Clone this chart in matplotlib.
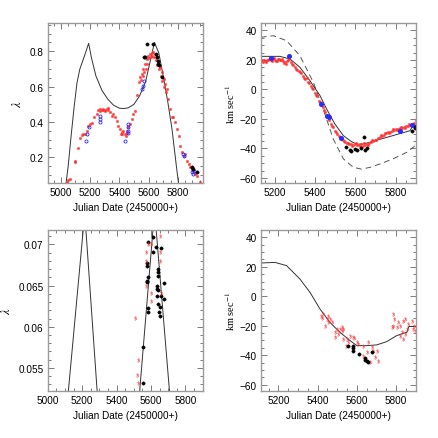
import matplotlib
matplotlib.use("Agg")
import matplotlib.pyplot as plt
from matplotlib.ticker import MultipleLocator

plt.rcParams['font.family'] = ['Liberation Sans', 'DejaVu Sans']
plt.rcParams['mathtext.fontset'] = 'stix'

# ---------------- Panel 1 (top left): lambda vs JD ----------------
p1_model_x = [5035, 5050, 5070, 5090, 5110, 5130, 5160, 5190, 5210, 5240, 5280, 5320, 5360, 5400,
              5430, 5460, 5500, 5540, 5580, 5610, 5640, 5670, 5700, 5730, 5760, 5790, 5805]
p1_model_y = [0.05, 0.15, 0.32, 0.48, 0.62, 0.70, 0.77, 0.845, 0.76, 0.66, 0.58, 0.53, 0.495, 0.478,
              0.476, 0.48, 0.50, 0.55, 0.63, 0.74, 0.85, 0.79, 0.66, 0.52, 0.36, 0.15, 0.05]
p1_red_x = [5045, 5050, 5060, 5096, 5100, 5114, 5130, 5142, 5150, 5165, 5176, 5183, 5199, 5210, 5229,
            5245, 5256, 5267, 5278, 5290, 5300, 5313, 5325, 5336, 5347, 5359, 5370, 5382, 5393, 5405,
            5416, 5427, 5439, 5450, 5462, 5473, 5485, 5496, 5507, 5523, 5537, 5542, 5553, 5565, 5576,
            5587, 5599, 5610, 5622, 5633, 5645, 5656, 5667, 5679, 5690, 5702, 5713, 5725, 5736, 5747,
            5759, 5770, 5782, 5793, 5805, 5816, 5827, 5839, 5850, 5862, 5873, 5885, 5896, 5907, 5919,
            5930, 5953, 5600, 5615, 5625, 5640, 5650, 5660, 5670, 5685, 5695, 5705, 5720, 5590, 5580,
            5570, 5560, 5548, 5270, 5285, 5305, 5320, 5410, 5420, 5445, 5455]
p1_red_y = [0.06, 0.07, 0.08, 0.172, 0.18, 0.25, 0.31, 0.325, 0.33, 0.33, 0.35, 0.38, 0.39, 0.395, 0.43,
            0.445, 0.465, 0.475, 0.47, 0.475, 0.465, 0.475, 0.478, 0.455, 0.436, 0.445, 0.426, 0.408, 0.38, 0.36,
            0.342, 0.35, 0.332, 0.35, 0.37, 0.389, 0.417, 0.445, 0.464, 0.55, 0.625, 0.653, 0.672, 0.70, 0.728,
            0.757, 0.775, 0.785, 0.79, 0.798, 0.785, 0.766, 0.738, 0.71, 0.68, 0.643, 0.615, 0.587, 0.53, 0.474,
            0.426, 0.426, 0.398, 0.36, 0.323, 0.266, 0.228, 0.21, 0.219, 0.181, 0.162, 0.143, 0.134, 0.124, 0.106,
            0.096, 0.062, 0.76, 0.77, 0.775, 0.77, 0.75, 0.72, 0.70, 0.66, 0.63, 0.60, 0.57, 0.73, 0.70,
            0.68, 0.66, 0.64, 0.46, 0.465, 0.46, 0.465, 0.33, 0.33, 0.32, 0.34]
p1_blue_x = [5171, 5181, 5194, 5267, 5267, 5267, 5439, 5457, 5462, 5462, 5462, 5553, 5560, 5569, 5834,
             5843, 5896, 5903, 5912]
p1_blue_y = [0.294, 0.332, 0.37, 0.436, 0.417, 0.40, 0.294, 0.35, 0.37, 0.389, 0.34, 0.587, 0.606, 0.634,
             0.219, 0.21, 0.115, 0.106, 0.124]
p1_black_x = [5592, 5629, 5569, 5572, 5651, 5656, 5661, 5667, 5674, 5690, 5896, 5907, 5930]
p1_black_y = [0.842, 0.842, 0.766, 0.770, 0.785, 0.766, 0.747, 0.728, 0.72, 0.653, 0.143, 0.134, 0.115]

# ---------------- Panel 2 (top right): velocity vs JD ----------------
p2_model_x = [5129, 5225, 5275, 5324, 5374, 5424, 5457, 5498, 5540, 5581, 5606, 5640, 5871, 5885, 5900]
p2_model_y = [22.4, 22.4, 20.6, 15.0, 5.9, -4.2, -13.3, -23.4, -31.3, -35.4, -37.0, -37.0, -28.0, -25.0, -25.0]
p2_dash_x = [5129, 5192, 5258, 5324, 5391, 5440, 5490, 5540, 5590, 5631, 5672, 5722, 5788, 5855, 5899]
p2_dash_y = [35.3, 36.4, 33.0, 22.8, 4.8, -13.3, -33.6, -47.0, -52.8, -54.0, -52.8, -50.5, -47.0, -42.6, -38.0]
p2_red_x = [5130, 5140, 5150, 5160, 5170, 5180, 5190, 5200, 5210, 5220, 5230, 5240, 5250, 5260, 5270,
            5280, 5290, 5300, 5310, 5320, 5330, 5340, 5350, 5360, 5370, 5380, 5390, 5400, 5410, 5420,
            5430, 5440, 5450, 5460, 5470, 5480, 5490, 5500, 5510, 5520, 5530, 5540, 5550, 5560, 5570,
            5580, 5590, 5600, 5610, 5620, 5630, 5640, 5650, 5660, 5670, 5680, 5690, 5700, 5710, 5720,
            5730, 5740, 5750, 5760, 5770, 5780, 5790, 5800, 5810, 5820, 5830, 5840, 5850, 5860, 5870,
            5880, 5890, 5900, 5910,
            5135, 5145, 5155, 5165, 5175, 5185, 5195, 5205, 5215, 5225, 5235, 5245, 5255, 5265, 5285,
            5305, 5325, 5345, 5365, 5385, 5405, 5425, 5445, 5465, 5485, 5505, 5525, 5545, 5565, 5585,
            5605, 5625, 5645, 5665, 5685, 5705, 5725, 5745, 5765, 5785, 5805, 5825, 5845, 5865, 5885,
            5905]
p2_red_y = [19.0, 18.5, 19.5, 20.0, 20.6, 20.0, 20.5, 20.0, 19.5, 20.3, 20.0, 19.0, 18.3, 19.0, 20.6,
            18.8, 16.5, 15.0, 13.4, 12.7, 11.0, 9.3, 7.0, 7.7, 4.3, 2.5, 0.3, -2.4, -4.7, -7.6,
            -9.9, -12.0, -15.0, -17.8, -20.5, -23.4, -25.7, -28.0, -30.2, -31.8, -33.1, -34.0, -35.4, -36.3, -37.0,
            -37.2, -37.7, -37.2, -37.7, -37.4, -37.2, -38.1, -37.4, -36.7, -36.3, -35.4, -34.7, -34.0, -33.1, -32.5,
            -31.3, -30.7, -29.8, -29.1, -28.6, -28.0, -27.5, -26.8, -26.8, -26.4, -26.0, -25.2, -25.0, -24.6, -24.1,
            -23.7, -22.8, -21.0, -22.0,
            20.2, 19.8, 18.8, 19.6, 21.0, 19.4, 21.0, 19.2, 20.4, 19.6, 20.8, 18.2, 17.2, 19.8, 17.5,
            14.0, 11.8, 8.0, 5.2, 1.0, -3.8, -8.6, -13.8, -19.0, -24.8, -29.0, -32.2, -35.0, -36.0, -38.5,
            -36.5, -38.6, -36.6, -37.5, -34.0, -34.6, -31.0, -29.5, -29.8, -27.0, -27.6, -25.4, -26.0, -23.5, -24.6,
            -23.0]
p2_blue_x = [5180, 5270, 5430, 5460, 5470, 5530, 5820, 5880]
p2_blue_y = [21.0, 22.5, -10.0, -18.0, -18.5, -33.0, -28.0, -24.0]
p2_black_x = [5555, 5575, 5580, 5600, 5610, 5630, 5645, 5650, 5660, 5880, 5895, 5900]
p2_black_y = [-39.0, -41.0, -42.0, -40.5, -41.0, -40.0, -32.0, -41.0, -40.0, -28.0, -26.0, -25.0]

# ---------------- Panel 3 (bottom left): lambda zoom ----------------
p3_model1_x = [5120, 5206, 5214, 5222, 5287]
p3_model1_y = [0.0522, 0.0717, 0.0735, 0.0717, 0.0522]
p3_model2_x = [5534, 5611, 5620, 5630, 5707]
p3_model2_y = [0.0522, 0.0717, 0.0735, 0.0717, 0.0522]
p3_black_x = [5553, 5553, 5582, 5582, 5578, 5579, 5582, 5578, 5578, 5582, 5611, 5611, 5630, 5640, 5640,
              5640, 5636, 5636, 5640, 5636, 5640, 5650, 5646, 5650, 5655, 5655, 5675, 5675]
p3_black_y = [0.05314, 0.05751, 0.06175, 0.06224, 0.06539, 0.06560, 0.06600, 0.06741, 0.06773, 0.07024,
              0.06911, 0.07085, 0.06964, 0.06701, 0.06660, 0.06620, 0.06499, 0.06458, 0.06440, 0.06377,
              0.06276, 0.06236, 0.06175, 0.06127, 0.06956, 0.06377, 0.06527, 0.06337]
p3_red_x = [5505, 5524, 5520, 5524, 5573, 5573, 5573, 5582, 5601, 5598, 5601, 5650, 5650, 5650, 5655]
p3_red_y = [0.06102, 0.05600, 0.05415, 0.05314, 0.06499, 0.06903, 0.06802, 0.07004, 0.07004, 0.06317,
            0.06410, 0.07105, 0.06903, 0.06802, 0.06410]

# ---------------- Panel 4 (bottom right): velocity zoom ----------------
p4_model_x = [5110, 5183, 5242, 5310, 5361, 5412, 5463, 5514, 5565, 5600, 5650, 5701, 5752, 5803, 5840,
              5855, 5865, 5900]
p4_model_y = [22.6, 23.0, 20.8, 11.7, 2.7, -8.6, -17.7, -24.5, -30.0, -33.5, -33.5, -33.0, -30.8, -26.7,
              -25.0, -24.5, -20.5, -20.5]
p4_black_x = [5556, 5581, 5578, 5581, 5613, 5642, 5650, 5659, 5642, 5679]
p4_black_y = [-33.6, -33.6, -35.2, -37.0, -39.2, -42.1, -43.7, -44.4, -43.5, -37.6]
p4_red_x = [5418, 5421, 5429, 5438, 5446, 5455, 5463, 5455, 5472, 5489, 5489, 5497, 5506, 5514, 5523,
            5523, 5531, 5531, 5544, 5548, 5556, 5565, 5578, 5585, 5599, 5607, 5633, 5650, 5633, 5655,
            5675, 5684, 5701, 5709, 5692, 5667,
            5786, 5789, 5778, 5786, 5803, 5811, 5820, 5828, 5820, 5833, 5837, 5845, 5845, 5879, 5884,
            5893, 5896, 5862, 5854]
p4_red_y = [-13.2, -15.0, -12.0, -20.0, -15.4, -13.2, -15.4, -17.7, -17.7, -24.5, -27.9, -22.2, -25.6, -22.2,
            -21.0, -23.3, -22.2, -29.1, -33.6, -29.1, -31.3, -27.2, -27.9, -28.5, -31.3, -32.4, -33.5, -38.1,
            -40.3, -31.3, -34.7, -36.9, -36.9, -43.7, -41.4, -44.9,
            -12.1, -15.4, -21.0, -20.0, -21.0, -17.7, -20.0, -24.5, -26.7, -29.1, -16.5, -15.4, -25.6, -16.5,
            -22.2, -20.0, -23.3, -18.8, -22.2]

W = 439.0
fig = plt.figure(figsize=(4.39, 4.39), dpi=100)


def add_ax(l, r, t, b):
    return fig.add_axes([l / W, 1 - b / W, (r - l) / W, (b - t) / W])


spine_col = '#9a9a9a'
lab_fs = 7.2


def style(ax, xmaj, xmin, ymaj, ymin):
    ax.xaxis.set_major_locator(MultipleLocator(xmaj))
    ax.xaxis.set_minor_locator(MultipleLocator(xmin))
    ax.yaxis.set_major_locator(MultipleLocator(ymaj))
    ax.yaxis.set_minor_locator(MultipleLocator(ymin))
    ax.tick_params(which='both', direction='in', top=True, right=True, color='#666666',
                   width=0.6, labelsize=lab_fs, pad=3)
    ax.tick_params(which='major', length=4)
    ax.tick_params(which='minor', length=2)
    for s in ax.spines.values():
        s.set_color(spine_col)
        s.set_linewidth(1.0)
    ax.set_xlabel('Julian Date (2450000+)', fontsize=lab_fs, labelpad=3)


red_kw = dict(ls='none', marker='o', ms=1.9, mfc='#ff2020', mec='#ff5050', mew=0.3, alpha=0.85)
blue_kw = dict(ls='none', marker='o', ms=2.2, mfc='none', mec='#2a2aff', mew=0.6)
black_kw = dict(ls='none', marker='o', ms=2.4, mfc='black', mec='black', mew=0.3)
red3_kw = dict(ls='none', marker='$3$', ms=2.4, color='#ff3030', mew=0.2)
line_kw = dict(color='#333333', lw=0.7)

# Panel 1
ax1 = add_ax(47.7, 202.7, 24, 184.3)
ax1.plot(p1_model_x, p1_model_y, **line_kw)
ax1.plot(p1_red_x, p1_red_y, **red_kw)
ax1.plot(p1_blue_x, p1_blue_y, **blue_kw)
ax1.plot(p1_black_x, p1_black_y, **black_kw)
ax1.set_xlim(4910, 5970)
ax1.set_ylim(0.053, 0.96)
style(ax1, 200, 50, 0.2, 0.05)
ax1.set_ylabel(r'$\lambda$', fontsize=9, labelpad=4)

# Panel 2
ax2 = add_ax(260.7, 415.7, 24, 184.3)
ax2.plot(p2_dash_x, p2_dash_y, color='#555555', lw=0.7, ls=(0, (6, 4)))
ax2.plot(p2_model_x, p2_model_y, **line_kw)
ax2.plot(p2_red_x, p2_red_y, **red_kw)
ax2.plot(p2_blue_x, p2_blue_y, ls='none', marker='o', ms=2.6, mfc='#2a2aff', mec='#2a2aff')
ax2.plot(p2_black_x, p2_black_y, **black_kw)
ax2.set_xlim(5129, 5900)
ax2.set_ylim(-63.6, 45)
style(ax2, 200, 50, 20, 5)
ax2.set_ylabel(r'km sec$^{-1}$', fontsize=7.5, family='Liberation Serif', labelpad=2)

# Panel 3
ax3 = add_ax(47.7, 202.7, 231, 392.3)
ax3.plot(p3_model1_x, p3_model1_y, **line_kw)
ax3.plot(p3_model2_x, p3_model2_y, **line_kw)
ax3.plot(p3_black_x, p3_black_y, **black_kw)
ax3.plot(p3_red_x, p3_red_y, **red3_kw)
ax3.set_xlim(5000, 5900)
ax3.set_ylim(0.05217, 0.07174)
style(ax3, 200, 50, 0.005, 0.001)
ax3.yaxis.set_major_formatter(matplotlib.ticker.FuncFormatter(lambda v, p: ('%.3f' % v).rstrip('0')))
ax3.set_ylabel(r'$\lambda$', fontsize=9, labelpad=4)

# Panel 4
ax4 = add_ax(260.7, 415.7, 231, 392.3)
ax4.plot(p4_model_x, p4_model_y, **line_kw)
ax4.plot(p4_red_x, p4_red_y, **red3_kw)
ax4.plot(p4_black_x, p4_black_y, **black_kw)
ax4.set_xlim(5110, 5900)
ax4.set_ylim(-64.5, 45)
style(ax4, 200, 50, 20, 5)
ax4.set_ylabel(r'km sec$^{-1}$', fontsize=7.5, family='Liberation Serif', labelpad=2)

fig.savefig('out.png', dpi=100)
